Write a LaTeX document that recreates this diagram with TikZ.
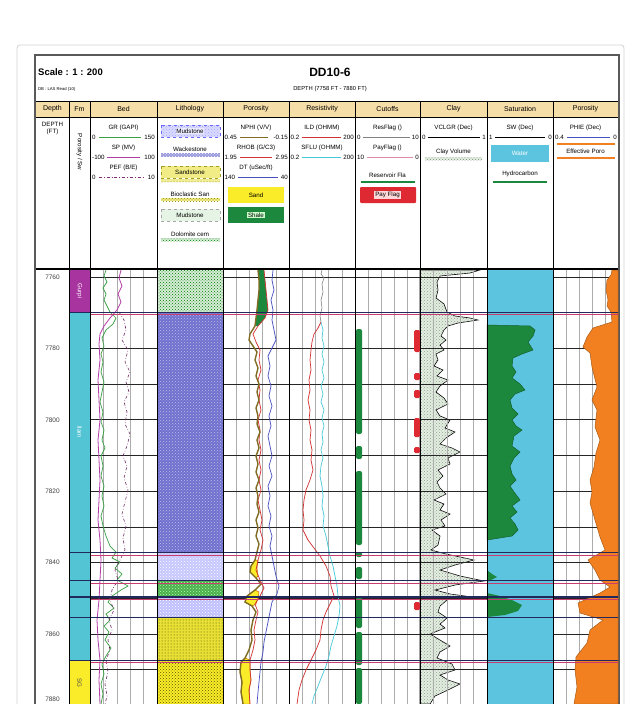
\documentclass[tikz,border=0pt]{standalone}
\usepackage{fontspec}
\setmainfont{Liberation Sans}
\usetikzlibrary{patterns}

\definecolor{hdrtan}{RGB}{246,222,168}
\definecolor{fmpurple}{RGB}{168,52,160}
\definecolor{fmcyan}{RGB}{82,196,212}
\definecolor{fmyellow}{RGB}{250,236,40}
\definecolor{wackblue}{RGB}{112,112,206}
\definecolor{mudgreen}{RGB}{214,236,214}
\definecolor{claybg}{RGB}{226,240,224}
\definecolor{sandyellow}{RGB}{232,224,52}
\definecolor{shalegreen}{RGB}{28,136,62}
\definecolor{watercyan}{RGB}{92,196,222}
\definecolor{phieorange}{RGB}{242,128,32}
\definecolor{payred}{RGB}{222,40,50}
\definecolor{zonepink}{RGB}{200,60,112}
\definecolor{zonenavy}{RGB}{32,40,92}
\definecolor{grclr}{RGB}{60,160,70}
\definecolor{spclr}{RGB}{180,60,165}
\definecolor{nphiclr}{RGB}{128,108,36}
\definecolor{dtclr}{RGB}{70,80,190}
\definecolor{rhobclr}{RGB}{210,50,50}
\definecolor{sfluclr}{RGB}{70,200,214}

\begin{document}
\begin{tikzpicture}[x=1pt,y=-1pt,
    lg/.style={font=\fontsize{6.2}{7}\selectfont,inner sep=0pt},
    hdr/.style={font=\fontsize{7}{8}\selectfont,inner sep=0pt},
    gridv/.style={gray!65,line width=0.4pt},
    gridh/.style={black!85,line width=0.7pt},
    trackline/.style={black,line width=0.8pt},
    zone/.style={zonepink,line width=0.8pt},
    zonedark/.style={zonenavy,line width=0.9pt}]
    \useasboundingbox (0,0) rectangle (641,704);
    \fill[white] (0,0) rectangle (641,704);

    % card and frame
    \draw[gray!35,line width=0.8pt,rounded corners=3pt] (17,45) rectangle (624,720);
    \draw[black!65,line width=1.2pt] (35,55) rectangle (619,712);

    \node[anchor=west,font=\bfseries\fontsize{9.5}{10}\selectfont,inner sep=0pt] (scale) at (38,72) {Scale : 1 : 200};
    \node[anchor=west,font=\fontsize{4.2}{5}\selectfont,inner sep=0pt] (db) at (38,89) {DB : LAS Read (10)};
    \node[font=\bfseries\fontsize{12}{13}\selectfont,inner sep=0pt] (well) at (330,72) {DD10-6};
    \node[font=\fontsize{5.8}{7}\selectfont,inner sep=0pt] (range) at (330,89) {DEPTH (7758 FT - 7880 FT)};

    % header row
    \fill[hdrtan] (36,101) rectangle (618,117);
    \draw[trackline] (36,101) -- (618,101);
    \draw[trackline] (36,117) -- (618,117);
    \node[hdr] at (52.5,109) {Depth};
    \node[hdr] at (79.5,109) {Fm};
    \node[hdr] at (123.5,109) {Bed};
    \node[hdr] at (190,109) {Lithology};
    \node[hdr] at (256,109) {Porosity};
    \node[hdr] at (322,109) {Resistivity};
    \node[hdr] at (387.5,109) {Cutoffs};
    \node[hdr] at (453.5,109) {Clay};
    \node[hdr] at (520,109) {Saturation};
    \node[hdr] at (585.5,109) {Porosity};

    % legend
    \node[lg] at (52.5,124) {DEPTH};
    \node[lg] at (52.5,132) {(FT)};
    \node[lg,rotate=-90] at (79.5,152) {Porosity / Sw};

    \node[lg] at (123.5,128) {GR (GAPI)};
    \node[lg,anchor=west] at (92,137) {0};
    \node[lg,anchor=east] at (155,137) {150};
    \draw[grclr,line width=0.9pt] (99,137) -- (141,137);
    \node[lg] at (123.5,148) {SP (MV)};
    \node[lg,anchor=west] at (92,157) {-100};
    \node[lg,anchor=east] at (155,157) {100};
    \draw[spclr,line width=0.9pt] (107,157) -- (140,157);
    \node[lg] at (123.5,168) {PEF (B/E)};
    \node[lg,anchor=west] at (92,177) {0};
    \node[lg,anchor=east] at (155,177) {10};
    \draw[spclr!70!black,line width=0.7pt,dash dot] (99,177) -- (145,177);

    \path[fill=blue!14,draw=blue!60,dashed,postaction={pattern=crosshatch dots,pattern color=blue!35}] (161,125) rectangle (220,137);
    \node[lg,fill=blue!8,inner sep=0.5pt] at (190,131) {Mudstone};
    \node[lg] at (190,149) {Wackestone};
    \path[fill=wackblue!70,postaction={pattern=crosshatch dots,pattern color=white}] (161,153) rectangle (220,157);
    \path[fill=sandyellow!60,draw=sandyellow!70!black,dashed] (161,166) rectangle (220,178);
    \node[lg] at (190,172) {Sandstone};
    \path[fill=sandyellow!50,postaction={pattern=dots,pattern color=olive}] (161,179) rectangle (220,182);
    \node[lg] at (190,194) {Bioclastic San};
    \path[fill=sandyellow!60,postaction={pattern=crosshatch dots,pattern color=olive}] (161,198) rectangle (220,201);
    \path[fill=mudgreen!60,draw=gray!70,dashed] (161,209) rectangle (220,221);
    \node[lg] at (190,215) {Mudstone};
    \node[lg] at (190,234) {Dolomite cem};
    \path[fill=mudgreen,postaction={pattern=crosshatch dots,pattern color=green!50!black}] (161,238) rectangle (220,241);

    \node[lg] at (256,128) {NPHI (V/V)};
    \node[lg,anchor=west] at (224.5,137) {0.45};
    \node[lg,anchor=east] at (288,137) {-0.15};
    \draw[nphiclr,line width=0.9pt] (240,137) -- (268,137);
    \node[lg] at (256,148) {RHOB (G/C3)};
    \node[lg,anchor=west] at (224.5,157) {1.95};
    \node[lg,anchor=east] at (288,157) {2.95};
    \draw[rhobclr,line width=0.9pt] (240,157) -- (272,157);
    \node[lg] at (256,168) {DT (uSec/ft)};
    \node[lg,anchor=west] at (224.5,177) {140};
    \node[lg,anchor=east] at (288,177) {40};
    \draw[dtclr,line width=0.9pt] (238,177) -- (278,177);
    \fill[fmyellow] (228,187) rectangle (284,203);
    \node[lg] at (256,195) {Sand};
    \fill[shalegreen] (228,207) rectangle (284,223);
    \node[lg,fill=white!80!green,inner sep=0.8pt] at (256,215) {Shale};

    \node[lg] at (322,128) {ILD (OHMM)};
    \node[lg,anchor=west] at (290.5,137) {0.2};
    \node[lg,anchor=east] at (354,137) {200};
    \draw[rhobclr,line width=0.9pt] (302,137) -- (341,137);
    \node[lg] at (322,148) {SFLU (OHMM)};
    \node[lg,anchor=west] at (290.5,157) {0.2};
    \node[lg,anchor=east] at (354,157) {200};
    \draw[sfluclr,line width=0.9pt] (302,157) -- (341,157);

    \node[lg] at (387.5,128) {ResFlag ()};
    \node[lg,anchor=west] at (357,137) {0};
    \node[lg,anchor=east] at (419,137) {10};
    \draw[gray,line width=0.7pt] (363,137) -- (410,137);
    \node[lg] at (387.5,148) {PayFlag ()};
    \node[lg,anchor=west] at (357,157) {10};
    \node[lg,anchor=east] at (419,157) {0};
    \draw[zonepink!60,line width=0.7pt] (367,157) -- (413,157);
    \node[lg] at (387.5,175) {Reservoir Fla};
    \draw[shalegreen,line width=2pt] (361,182) -- (415,182);
    \fill[payred,rounded corners=1pt] (360,187) rectangle (416,203);
    \node[lg,fill=white!85!red,inner sep=0.8pt] at (387.5,195) {Pay Flag};

    \node[lg] at (453.5,128) {VCLGR (Dec)};
    \node[lg,anchor=west] at (422,137) {0};
    \node[lg,anchor=east] at (486,137) {1};
    \draw[black,line width=0.7pt] (428,137) -- (480,137);
    \node[lg] at (453.5,152) {Clay Volume};
    \path[fill=claybg,postaction={pattern=crosshatch dots,pattern color=gray}] (425,157) rectangle (482,160);

    \node[lg] at (520,128) {SW (Dec)};
    \node[lg,anchor=west] at (489,137) {1};
    \node[lg,anchor=east] at (552,137) {0};
    \draw[black,line width=0.7pt] (495,137) -- (545,137);
    \fill[watercyan] (491,145) rectangle (549,162);
    \node[lg,text=white] at (520,153) {Water};
    \node[lg] at (520,174) {Hydrocarbon};
    \draw[shalegreen,line width=2pt] (493,182) -- (547,182);

    \node[lg] at (585.5,128) {PHIE (Dec)};
    \node[lg,anchor=west] at (555,137) {0.4};
    \node[lg,anchor=east] at (617,137) {0};
    \draw[dtclr,line width=0.7pt] (567,137) -- (610,137);
    \draw[phieorange,line width=1.2pt] (557,144) -- (615,144);
    \node[lg] at (585.5,151) {Effective Poro};
    \draw[phieorange,line width=2pt] (557,158) -- (615,158);

    % formations
    \fill[fmpurple] (69,269) rectangle (90,312);
    \fill[fmcyan] (69,312) rectangle (90,660);
    \fill[fmyellow] (69,660) rectangle (90,704);
    \node[lg,rotate=-90,text=white] at (79.5,291) {Gurpi};
    \node[lg,rotate=-90,text=white] at (79.5,432) {Ilam};
    \node[lg,rotate=-90,text=black!70] at (79.5,683) {SG};

    % clay volume (under grid)
    \path[draw=black,line width=0.6pt,fill=claybg,postaction={pattern=crosshatch dots,pattern color=gray!80}]
        (420,270) -- plot coordinates {(480,270) (470,273) (440,276) (437,282) (438,290) (436,298) (444,304)
        (447,312) (455,316) (470,318) (478,320) (458,323) (448,326) (444,330) (441,336) (446,340) (440,345)
        (444,350) (436,354) (438,360) (434,366) (443,370) (437,376) (448,380) (440,386) (436,392) (444,398)
        (448,404) (436,410) (440,416) (450,420) (445,428) (455,432) (446,438) (440,444) (452,448) (460,452)
        (448,458) (450,464) (438,470) (443,476) (437,482) (440,488) (446,494) (434,500) (444,504) (440,510)
        (450,514) (441,520) (445,526) (432,530) (440,536) (438,545) (431,550) (446,554) (474,560) (455,565)
        (440,570) (460,576) (484,581) (455,585) (435,590) (450,594) (465,596) (447,600) (440,606) (438,612)
        (447,618) (440,624) (445,628) (430,634) (440,640) (450,646) (440,652) (437,658) (452,664) (455,670)
        (440,675) (448,680) (460,684) (448,690) (435,696) (430,704)} -- (420,704) -- cycle;

    % grid
    \foreach \l/\r in {90/157,223/289,289/355,355/420,420/487,553/618}
        \foreach \i in {1,...,4}
            \draw[gridv] ({\l+\i*(\r-\l)/5},269) -- ({\l+\i*(\r-\l)/5},704);
    \foreach \k in {0,...,11}
        \draw[gridh] (90,{277+35.7*\k}) -- (618,{277+35.7*\k});

    % lithology
    \path[fill=mudgreen,postaction={pattern=crosshatch dots,pattern color=green!50!black}] (157,269) rectangle (223,312);
    \path[fill=wackblue,postaction={pattern=crosshatch dots,pattern color=white!55!wackblue}] (157,312) rectangle (223,552);
    \path[fill=blue!22,postaction={pattern=crosshatch dots,pattern color=white}] (157,552) rectangle (223,580);
    \path[fill=green!55!black!70,postaction={pattern=crosshatch dots,pattern color=white!70!green}] (157,580) rectangle (223,597);
    \path[fill=blue!25,postaction={pattern=crosshatch dots,pattern color=white}] (157,597) rectangle (223,617);
    \path[fill=sandyellow,postaction={pattern=dots,pattern color=olive!60!black}] (157,617) rectangle (223,660);
    \path[fill=fmyellow,postaction={pattern=crosshatch dots,pattern color=olive!70!black}] (157,660) rectangle (223,704);

    % saturation
    \fill[watercyan] (487,269) rectangle (553,704);
    \path[draw=shalegreen!70!black,line width=0.5pt,fill=shalegreen]
        (487,325) -- plot coordinates {(530,326) (535,330) (533,336) (528,342) (533,350) (522,354) (513,358)
        (512,366) (516,372) (512,378) (520,384) (525,390) (515,394) (510,400) (512,408) (518,414) (512,420)
        (516,426) (522,430) (514,436) (512,446) (520,452) (514,458) (510,466) (512,474) (516,480) (510,486)
        (514,492) (520,500) (512,506) (517,512) (510,518) (515,524) (518,530) (512,536)} -- (487,540) -- cycle;
    \fill[shalegreen] (487,570) -- (492,574) -- (497,577) -- (491,580) -- (487,582) -- cycle;
    \fill[shalegreen] (487,593) -- (500,596) -- (512,600) -- (522,605) -- (518,611) -- (505,615) -- (487,617) -- cycle;

    % effective porosity
    \path[draw=phieorange!70!black,line width=0.5pt,fill=phieorange]
        (618,270) -- plot coordinates {(612,270) (611,275) (607,280) (606,290) (608,300) (607,306) (611,312)
        (612,322) (593,328) (587,337) (583,347) (590,353) (592,367) (597,387) (592,400) (597,410) (595,427)
        (600,440) (596,453) (594,467) (590,480) (592,492) (590,503) (595,520) (600,537) (605,550)
        (588,560) (595,570) (600,580) (610,587) (600,593) (578,603) (580,613) (603,620) (590,630) (587,643)
        (576,657) (575,670) (577,687) (574,704)} -- (618,704) -- cycle;

    % porosity fills
    \fill[shalegreen] (258,270) -- (259,280) -- (259,290) -- (258,300) -- (257,310) -- (256,318) -- (255,326)
        -- (258,326) -- (265,318) -- (268,310) -- (267,300) -- (266,290) -- (265,280) -- (264,270) -- cycle;
    \path[fill=fmyellow,draw=orange!80!black,line width=0.5pt] (255,560) -- (251,566) -- (250,572) -- (256,578)
        -- (258,576) -- (257,568) -- (258,560) -- cycle;
    \path[fill=fmyellow,draw=orange!80!black,line width=0.5pt] (255,590) -- (247,596) -- (245,602) -- (252,606)
        -- (256,604) -- (258,598) -- (259,592) -- cycle;
    \path[fill=fmyellow,draw=orange!80!black,line width=0.5pt] (245,658) -- (241,662) -- (240,672) -- (242,682)
        -- (241,692) -- (243,704) -- (250,704) -- (249,690) -- (251,680) -- (250,670) -- (250,660) -- cycle;

    % bed curves
    \draw[grclr,line width=0.7pt] plot coordinates {(106,270) (104,276) (107,282) (103,288) (106,294) (104,300)
        (107,306) (110,312) (116,318) (113,324) (106,330) (102,338) (104,346) (101,354) (103,362) (101,372)
        (104,382) (102,392) (100,402) (103,412) (101,422) (104,430) (102,440) (105,448) (101,456) (103,466)
        (101,476) (104,486) (102,496) (104,506) (101,516) (103,526) (106,536) (110,546) (116,552) (112,558)
        (120,562) (115,568) (122,574) (117,580) (128,586) (121,590) (112,596) (108,602) (114,608) (106,614)
        (110,620) (104,626) (109,632) (105,640) (111,648) (106,656) (102,664) (104,674) (101,684) (103,694) (101,704)};
    \draw[spclr,line width=0.8pt] plot coordinates {(121,270) (119,278) (122,286) (118,294) (121,302) (117,310)
        (110,318) (104,326) (100,334) (99,344) (100,360) (98,380) (99,400) (100,420) (98,440) (99,460) (100,480)
        (99,500) (98,520) (100,540) (101,560) (100,580) (99,600) (97,620) (98,640) (100,660) (99,680) (100,704)};
    \draw[spclr!60!black,line width=0.6pt,dash dot] plot coordinates {(119,312) (124,320) (126,330) (122,340)
        (128,350) (125,362) (130,372) (126,382) (129,392) (124,402) (127,412) (125,424) (130,434) (127,446)
        (123,456) (127,466) (124,478) (128,490) (125,502) (122,514) (126,526) (123,538) (125,550) (120,560)
        (115,570) (118,580) (112,590) (110,600) (114,610) (109,620) (112,630) (108,640) (110,650) (106,660)
        (108,672) (105,684) (107,696) (105,704)};

    % porosity curves
    \draw[dtclr,line width=0.7pt] plot coordinates {(273,270) (272,280) (274,290) (271,300) (273,310) (272,320)
        (274,330) (276,340) (272,348) (268,356) (270,366) (268,376) (271,386) (269,396) (272,406) (269,416)
        (271,426) (268,436) (270,446) (272,456) (269,466) (272,476) (268,486) (270,496) (268,506) (271,516)
        (269,526) (272,536) (270,546) (272,556) (274,566) (276,576) (279,586) (277,594) (272,602) (270,612)
        (268,622) (266,632) (264,642) (263,652) (261,662) (260,672) (259,682) (258,692) (257,704)};
    \draw[rhobclr,line width=0.7pt] plot coordinates {(264,270) (265,280) (266,290) (267,300) (268,310) (265,318)
        (258,326) (253,334) (256,342) (260,350) (259,360) (261,370) (258,380) (260,390) (259,400) (261,410)
        (258,420) (260,430) (259,440) (261,450) (259,460) (261,470) (259,480) (261,490) (258,500) (260,510)
        (262,520) (260,530) (263,540) (261,550) (258,560) (256,570) (260,580) (264,588) (260,596) (255,604)
        (258,612) (256,620) (254,630) (255,640) (253,650) (250,660) (250,670) (251,680) (249,690) (250,704)};
    \draw[nphiclr,line width=1.4pt] plot coordinates {(258,270) (259,280) (259,290) (258,300) (257,310)
        (256,318) (255,326) (250,334) (249,340) (253,346) (257,352) (255,360) (258,368) (256,376) (259,384)
        (257,392) (259,400) (256,408) (258,416) (257,424) (260,432) (257,440) (259,448) (256,456) (258,464)
        (256,472) (259,480) (256,488) (258,496) (257,504) (259,512) (256,520) (258,528) (256,536) (259,544)
        (257,552) (255,560) (251,566) (250,572) (256,578) (261,584) (255,590) (247,596) (245,602) (252,606)
        (256,612) (253,620) (251,630) (252,640) (249,650) (245,658) (241,662) (240,672) (242,682) (241,692) (243,704)};

    % resistivity curves
    \draw[gray,line width=0.6pt] plot coordinates {(322,270) (321,274) (324,278) (322,284) (323,292) (321,300)
        (322,308) (320,316) (321,322)};
    \draw[rhobclr,line width=0.7pt] plot coordinates {(321,322) (318,328) (314,334) (312,342) (311,350)
        (310,360) (311,370) (309,380) (310,390) (308,400) (310,410) (309,420) (311,430) (310,440) (312,450)
        (311,460) (313,470) (310,480) (306,490) (304,500) (303,510) (304,520) (303,530) (308,540) (314,548)
        (320,556) (326,566) (330,576) (331,586) (334,596) (330,604) (326,612) (323,620) (321,630) (320,640)
        (316,650) (311,660) (306,670) (302,680) (299,690) (297,704)};
    \draw[sfluclr,line width=0.7pt] plot coordinates {(321,322) (323,330) (322,338) (324,346) (322,354)
        (324,362) (322,370) (324,378) (321,386) (323,394) (321,402) (324,410) (322,418) (324,426) (322,434)
        (323,442) (321,450) (323,458) (321,466) (320,476) (322,486) (323,496) (322,506) (324,516) (323,526)
        (326,536) (328,546) (330,556) (333,566) (335,576) (337,586) (338,596) (340,606) (339,616) (337,626)
        (334,636) (331,646) (329,656) (326,666) (322,676) (318,686) (314,696) (312,704)};

    % cutoff flags
    \foreach \a/\b in {329/434,446/459,471/545,552/557,567/579,597/628,632/665,668/704}
        \fill[shalegreen,rounded corners=2pt] (356,\a) rectangle (362,\b);
    \foreach \a/\b in {330/352,373/380,390/398,418/437,447/453,602/610}
        \fill[payred,rounded corners=1.5pt] (414,\a) rectangle (420,\b);

    % zone tops
    \foreach \z in {312,552,580,617,660}
        \draw[zonedark] (69,\z) -- (618,\z);
    \draw[zonedark,line width=1.6pt] (69,597) -- (618,597);
    \foreach \z in {314,555,583,599,662}
        \draw[zone] (90,\z) -- (618,\z);

    % track borders
    \foreach \t in {69,90,157,223,289,355,420,487,553}
        \draw[trackline] (\t,101) -- (\t,704);
    \draw[black,line width=1.2pt] (36,269) -- (618,269);

    % depth labels
    \foreach \d [count=\k from 0] in {7760,7780,7800,7820,7840,7860}
        \node[lg,text=black!75,font=\fontsize{6.5}{7}\selectfont] at (52.5,{277+71.4*\k}) {\d};
    \node[lg,text=black!75,font=\fontsize{6.5}{7}\selectfont] (d7880) at (52.5,699) {7880};
\end{tikzpicture}
\end{document}
